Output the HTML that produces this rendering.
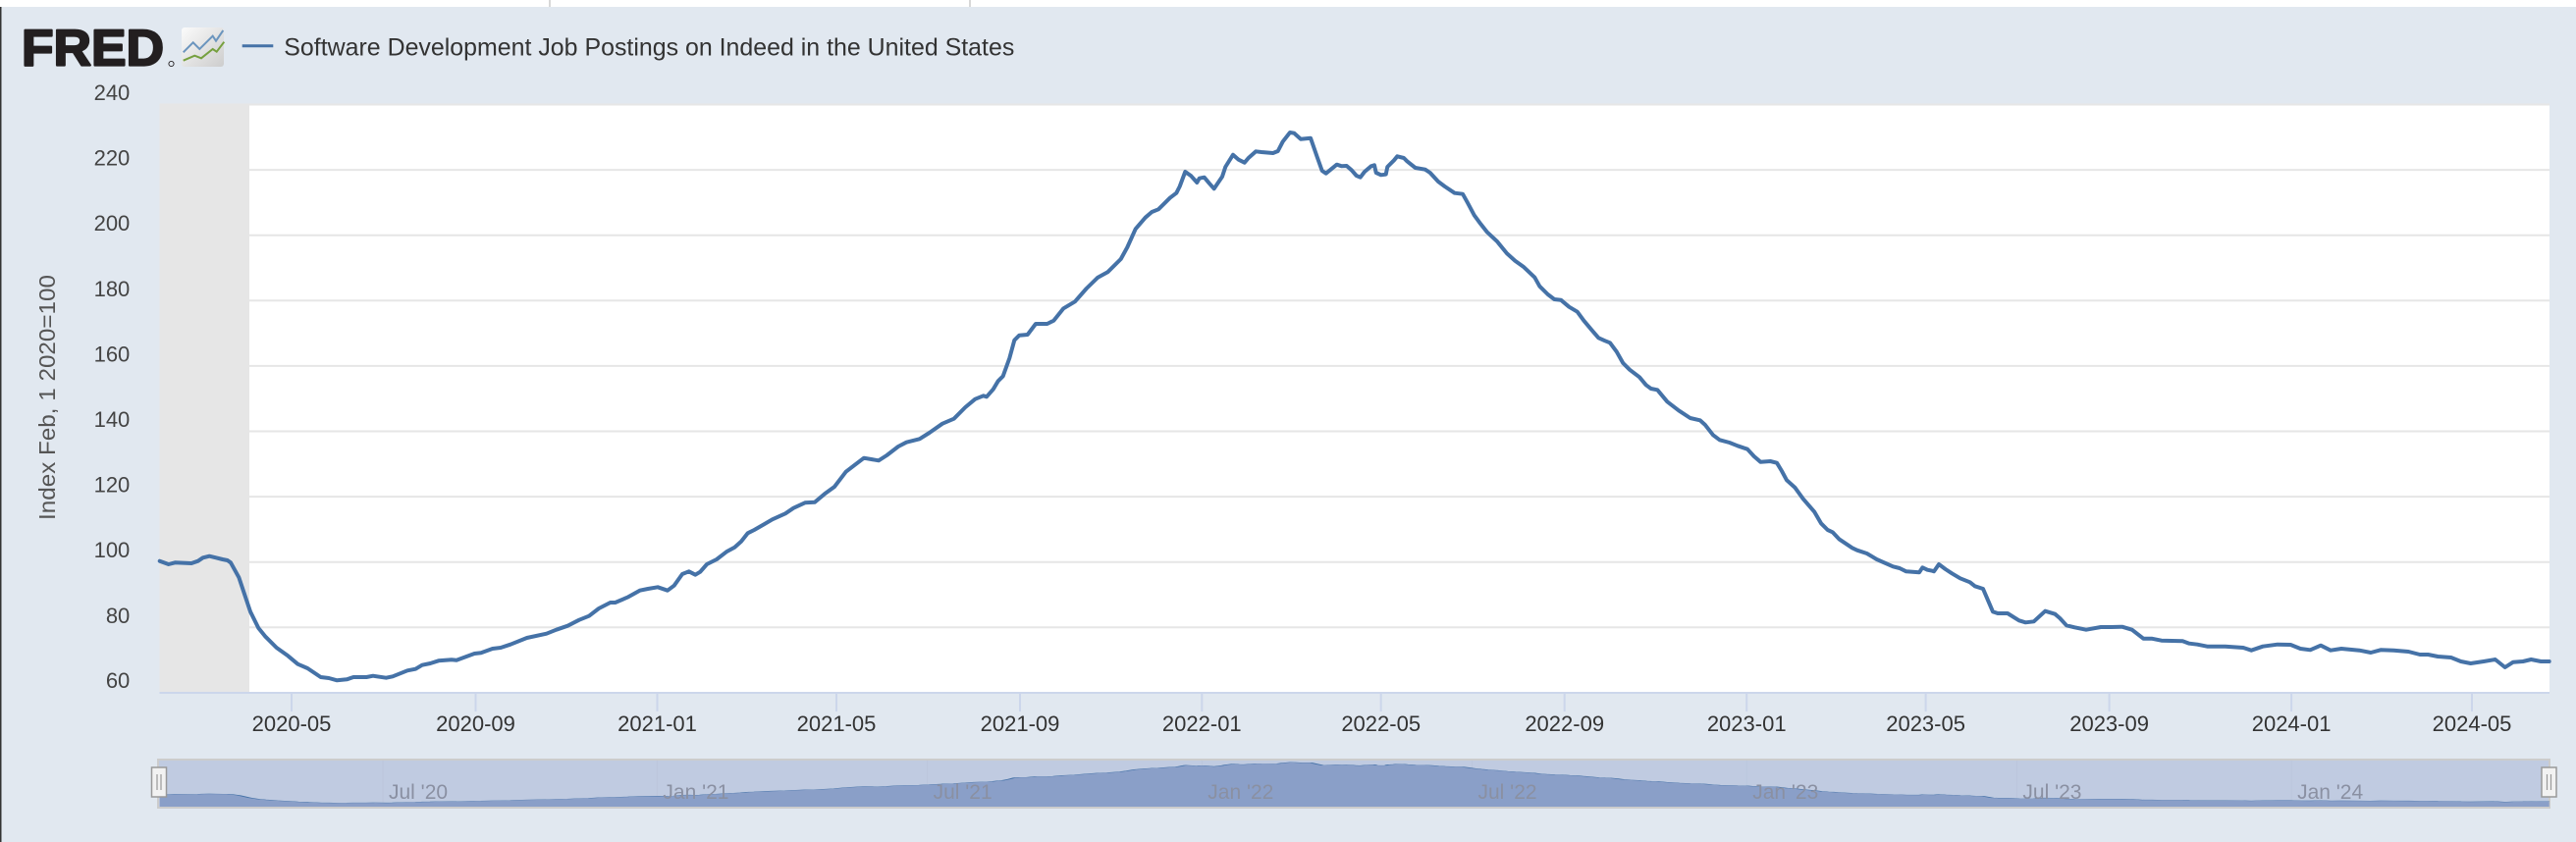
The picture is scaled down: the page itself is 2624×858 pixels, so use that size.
<!DOCTYPE html>
<html>
<head>
<meta charset="utf-8">
<style>
  html, body { margin: 0; padding: 0; background: #e1e8f0; }
  body { width: 2624px; height: 858px; overflow: hidden; }
  svg { display: block; font-family: "Liberation Sans", Arial, sans-serif; }
</style>
</head>
<body>
<svg width="2624" height="858" viewBox="0 0 2624 858" xmlns="http://www.w3.org/2000/svg">
  <defs>
    <linearGradient id="ig" x1="0" y1="0" x2="1" y2="1">
      <stop offset="0" stop-color="#fbfbfb"/>
      <stop offset="1" stop-color="#cdcdcd"/>
    </linearGradient>
    <clipPath id="navclip"><rect x="162" y="775" width="2435" height="47"/></clipPath>
  </defs>

  <!-- background -->
  <rect x="0" y="0" width="2624" height="858" fill="#e1e8f0"/>
  <rect x="0" y="0" width="2624" height="7" fill="#ffffff"/>
  <line x1="560" y1="0" x2="560" y2="7" stroke="#d8d8d8" stroke-width="2"/>
  <line x1="988" y1="0" x2="988" y2="7" stroke="#d8d8d8" stroke-width="2"/>
  <rect x="0" y="7" width="1.5" height="851" fill="#333333"/>

  <!-- FRED logo -->
  <text x="22" y="66.7" font-size="52" style="font-weight:700" fill="#231f20" stroke="#231f20" stroke-width="2.2" stroke-linejoin="round" textLength="145" lengthAdjust="spacingAndGlyphs">FRED</text>
  <circle cx="174.5" cy="65" r="2.6" fill="none" stroke="#231f20" stroke-width="0.9"/>
  <rect x="185" y="28" width="43" height="40" rx="3" fill="url(#ig)"/>
  <polyline points="186.7,53.3 196.7,43.3 203.3,50 216.7,36.7 220,41.7 227.3,31" fill="none" stroke="#6b95be" stroke-width="2"/>
  <polyline points="186.7,61.7 198.3,56.7 205,59.3 216.7,50 220.7,52.7 228.3,42.7" fill="none" stroke="#76a03f" stroke-width="2"/>

  <!-- legend -->
  <line x1="246.7" y1="46.7" x2="278.3" y2="46.7" stroke="#4572a7" stroke-width="3"/>
  <text x="289.3" y="56.7" font-size="25" fill="#333333" textLength="744" lengthAdjust="spacingAndGlyphs">Software Development Job Postings on Indeed in the United States</text>

  <!-- plot area -->
  <rect x="162.5" y="106.5" width="2434.5" height="599.5" fill="#ffffff"/>
  <g stroke="#e6e6e6" stroke-width="2">
    <line x1="162.5" y1="106.5" x2="2597" y2="106.5"/>
    <line x1="162.5" y1="173.1" x2="2597" y2="173.1"/>
    <line x1="162.5" y1="239.7" x2="2597" y2="239.7"/>
    <line x1="162.5" y1="306.3" x2="2597" y2="306.3"/>
    <line x1="162.5" y1="372.9" x2="2597" y2="372.9"/>
    <line x1="162.5" y1="439.5" x2="2597" y2="439.5"/>
    <line x1="162.5" y1="506.1" x2="2597" y2="506.1"/>
    <line x1="162.5" y1="572.7" x2="2597" y2="572.7"/>
    <line x1="162.5" y1="639.3" x2="2597" y2="639.3"/>
  </g>
  <rect x="162.5" y="106.5" width="91.5" height="599.5" fill="#e6e6e6"/>

  <!-- y labels -->
  <g font-size="22" fill="#444444" text-anchor="end">
    <text x="132.3" y="102">240</text>
    <text x="132.3" y="168.6">220</text>
    <text x="132.3" y="235.2">200</text>
    <text x="132.3" y="301.8">180</text>
    <text x="132.3" y="368.4">160</text>
    <text x="132.3" y="435">140</text>
    <text x="132.3" y="501.6">120</text>
    <text x="132.3" y="568.2">100</text>
    <text x="132.3" y="634.8">80</text>
    <text x="132.3" y="701.2">60</text>
  </g>
  <text transform="translate(56,405) rotate(-90)" x="0" y="0" font-size="23" fill="#555555" text-anchor="middle" textLength="250" lengthAdjust="spacingAndGlyphs">Index Feb, 1 2020=100</text>

  <!-- x axis -->
  <line x1="162.5" y1="706" x2="2597" y2="706" stroke="#ccd6eb" stroke-width="2"/>
  <g stroke="#ccd6eb" stroke-width="2">
    <line x1="297" y1="706" x2="297" y2="725"/>
    <line x1="484.5" y1="706" x2="484.5" y2="725"/>
    <line x1="669.5" y1="706" x2="669.5" y2="725"/>
    <line x1="852" y1="706" x2="852" y2="725"/>
    <line x1="1039" y1="706" x2="1039" y2="725"/>
    <line x1="1224.3" y1="706" x2="1224.3" y2="725"/>
    <line x1="1406.7" y1="706" x2="1406.7" y2="725"/>
    <line x1="1593.7" y1="706" x2="1593.7" y2="725"/>
    <line x1="1779.2" y1="706" x2="1779.2" y2="725"/>
    <line x1="1961.6" y1="706" x2="1961.6" y2="725"/>
    <line x1="2148.6" y1="706" x2="2148.6" y2="725"/>
    <line x1="2334.1" y1="706" x2="2334.1" y2="725"/>
    <line x1="2518" y1="706" x2="2518" y2="725"/>
  </g>
  <g font-size="22" fill="#333333" text-anchor="middle">
    <text x="297" y="745">2020-05</text>
    <text x="484.5" y="745">2020-09</text>
    <text x="669.5" y="745">2021-01</text>
    <text x="852" y="745">2021-05</text>
    <text x="1039" y="745">2021-09</text>
    <text x="1224.3" y="745">2022-01</text>
    <text x="1406.7" y="745">2022-05</text>
    <text x="1593.7" y="745">2022-09</text>
    <text x="1779.2" y="745">2023-01</text>
    <text x="1961.6" y="745">2023-05</text>
    <text x="2148.6" y="745">2023-09</text>
    <text x="2334.1" y="745">2024-01</text>
    <text x="2518" y="745">2024-05</text>
  </g>

  <!-- main series -->
  <polyline id="series" fill="none" stroke="#4572a7" stroke-width="4" stroke-linejoin="round" stroke-linecap="round" points="162.7,571.7 171.7,575 178.3,573.3 195,574 201.7,571.7 206.7,568.3 213.3,566.7 220,568.3 226.7,570 231.7,571 235,573.3 243.3,588.3 248.3,603.3 255,623.3 263.3,640 270,648.3 281.7,660 293.3,668.3 303.3,676.7 313.3,681 326.7,690 335,691 343.3,693.3 353.3,692.3 360,690 373.3,690 380,688.7 393.3,690.7 400,689.3 415,683.3 423.3,681.7 430,677.7 438.3,676 446.7,673.3 460,672.3 465,672.7 483.3,666 490,665.3 501.7,661 510,660 520,656.7 536.7,650 556.7,645.7 566.7,641.7 578.3,637.7 590,631.7 600,627.7 610,620 621.7,614 626.7,614 640,608.3 651.7,601.7 660,600 670,598.3 680,601.7 686.7,596.7 695,585 701.7,582.3 708.3,585.7 713.3,582.7 720,575 730,570 740,562.3 748.3,557.7 755,551.7 761.7,543.3 768.3,540 778.3,534.3 786.7,529.3 800,523.3 808.3,517.7 820,512.3 830,511.7 840,503.3 850,496 861.7,480.7 870,474.3 880,466.7 895,469.3 903.3,464 915,455 923.3,450.7 936.7,447.3 946.7,441 960,431.7 971.7,426.7 983.3,415 993.3,406.7 1001.7,403.3 1005,404.3 1011.7,396.7 1016.7,388.3 1021.7,383.3 1028.3,365 1033.3,346.7 1038.3,341.7 1046.7,341 1055,330 1066.7,330 1073.3,326.7 1083.3,314.3 1095,307.3 1106.7,294 1118.3,282.7 1128.3,277.3 1141.7,264 1148.3,252 1156.7,233.3 1166.7,221.7 1173.3,216 1180,213.3 1186.7,206.7 1191.7,201.7 1198.3,196.7 1201.7,190 1207.3,175 1213.3,179.3 1219.3,186 1221.7,181.7 1226.7,180.7 1231.7,186.7 1236.7,192.3 1245,180 1248.3,170 1256,157.7 1261.7,162.7 1267.7,165.7 1271.7,161 1279.3,154.3 1285,155 1296.7,156 1301.7,154 1306.7,144.3 1314,135 1318.3,135.7 1325,141.7 1335,140.7 1341.7,160 1346.7,174 1350.7,176.7 1361.7,167.7 1366.7,169.3 1371.7,169 1376.7,173.3 1381.7,179 1385.7,180.7 1390,175 1396.7,169.3 1400,168.3 1401.7,176 1406.7,178.3 1411.7,177.7 1413.3,170 1420,163.3 1423.3,159.3 1430,161 1433.3,164.3 1441.7,171 1451.7,172.7 1456.7,176 1465,185 1471.7,190 1481.7,196.7 1490,197.7 1495,206.7 1501.7,219.3 1508.3,228.3 1515,236.7 1525,246 1535,258.3 1543.3,265.7 1551.7,271.7 1563.3,282.7 1568.3,291.7 1576.7,300 1583.3,305 1590,305.7 1598.3,312.7 1606.7,317.7 1613.3,326.7 1621.7,336.7 1628.3,344.3 1635,347.3 1640,349.3 1646.7,358.3 1653.3,370 1660,376.7 1670,384.3 1676.7,392.3 1681.7,396 1688.3,397.3 1698.3,409.3 1710,418.3 1721.7,426 1731.7,428.3 1736.7,432.7 1745,443.3 1751.7,448.3 1761.7,451 1770,454.3 1780,457.7 1786.7,465 1793.3,470.7 1803.3,470 1810,471.7 1815,480 1820,489.3 1828.3,496.7 1836.7,508.3 1848.3,521.7 1855,533.3 1861.7,540 1866.7,542.3 1873.3,549.3 1886.7,558.3 1891.7,560.7 1901.7,564 1911.7,570 1928.3,577.3 1935,579 1941.7,582.3 1955,583.3 1958.3,578.3 1963.3,580.7 1968.3,581.7 1970,582.3 1975,575 1981.7,580 1988.3,584.3 1996.7,589.3 2006.7,593.3 2011.7,597.3 2020,600 2025,611.7 2030,623.3 2035,625 2045,625 2056.7,632.3 2063.3,634.3 2071.7,633.3 2083.3,622.7 2093.3,625.7 2098.3,630 2105,637.3 2113.3,639.3 2125,641.7 2140,639 2150,639 2161.7,638.7 2171.7,641.7 2183.3,650.7 2191.7,650.7 2201.7,652.7 2223.3,653.3 2230,655.7 2238.3,656.7 2248.3,658.7 2266.7,658.7 2285,660 2293.3,662.7 2305,658.7 2320,656.7 2333.3,657 2343.3,661 2353.3,662.3 2364,657.7 2374,662.7 2385,661 2403.3,662.7 2415,665 2425,662.3 2438.3,662.7 2453.3,664 2465,667 2473.3,667 2483.3,669 2496.7,670 2506.7,674 2516.7,676 2530,674 2541.7,672 2551.7,680 2560,674.7 2570,674 2578.3,672 2588.3,674 2596.7,674"/>

  <!-- navigator -->
  <rect x="161" y="774" width="2436" height="49" fill="#c0cbe1" stroke="#cccccc" stroke-width="2"/>
  <g clip-path="url(#navclip)">
    <g stroke="#b8c3da" stroke-width="1" opacity="0.6">
      <line x1="390" y1="775" x2="390" y2="822"/>
      <line x1="669.4" y1="775" x2="669.4" y2="822"/>
      <line x1="944.6" y1="775" x2="944.6" y2="822"/>
      <line x1="1224.3" y1="775" x2="1224.3" y2="822"/>
      <line x1="1499.5" y1="775" x2="1499.5" y2="822"/>
      <line x1="1779.2" y1="775" x2="1779.2" y2="822"/>
      <line x1="2054.4" y1="775" x2="2054.4" y2="822"/>
      <line x1="2334.1" y1="775" x2="2334.1" y2="822"/>
    </g>
    <g transform="matrix(1 0 0 0.07422 0 766.78)">
      <polygon fill="#8a9fc8" stroke="none" points="162.7,744 162.7,571.7 171.7,575 178.3,573.3 195,574 201.7,571.7 206.7,568.3 213.3,566.7 220,568.3 226.7,570 231.7,571 235,573.3 243.3,588.3 248.3,603.3 255,623.3 263.3,640 270,648.3 281.7,660 293.3,668.3 303.3,676.7 313.3,681 326.7,690 335,691 343.3,693.3 353.3,692.3 360,690 373.3,690 380,688.7 393.3,690.7 400,689.3 415,683.3 423.3,681.7 430,677.7 438.3,676 446.7,673.3 460,672.3 465,672.7 483.3,666 490,665.3 501.7,661 510,660 520,656.7 536.7,650 556.7,645.7 566.7,641.7 578.3,637.7 590,631.7 600,627.7 610,620 621.7,614 626.7,614 640,608.3 651.7,601.7 660,600 670,598.3 680,601.7 686.7,596.7 695,585 701.7,582.3 708.3,585.7 713.3,582.7 720,575 730,570 740,562.3 748.3,557.7 755,551.7 761.7,543.3 768.3,540 778.3,534.3 786.7,529.3 800,523.3 808.3,517.7 820,512.3 830,511.7 840,503.3 850,496 861.7,480.7 870,474.3 880,466.7 895,469.3 903.3,464 915,455 923.3,450.7 936.7,447.3 946.7,441 960,431.7 971.7,426.7 983.3,415 993.3,406.7 1001.7,403.3 1005,404.3 1011.7,396.7 1016.7,388.3 1021.7,383.3 1028.3,365 1033.3,346.7 1038.3,341.7 1046.7,341 1055,330 1066.7,330 1073.3,326.7 1083.3,314.3 1095,307.3 1106.7,294 1118.3,282.7 1128.3,277.3 1141.7,264 1148.3,252 1156.7,233.3 1166.7,221.7 1173.3,216 1180,213.3 1186.7,206.7 1191.7,201.7 1198.3,196.7 1201.7,190 1207.3,175 1213.3,179.3 1219.3,186 1221.7,181.7 1226.7,180.7 1231.7,186.7 1236.7,192.3 1245,180 1248.3,170 1256,157.7 1261.7,162.7 1267.7,165.7 1271.7,161 1279.3,154.3 1285,155 1296.7,156 1301.7,154 1306.7,144.3 1314,135 1318.3,135.7 1325,141.7 1335,140.7 1341.7,160 1346.7,174 1350.7,176.7 1361.7,167.7 1366.7,169.3 1371.7,169 1376.7,173.3 1381.7,179 1385.7,180.7 1390,175 1396.7,169.3 1400,168.3 1401.7,176 1406.7,178.3 1411.7,177.7 1413.3,170 1420,163.3 1423.3,159.3 1430,161 1433.3,164.3 1441.7,171 1451.7,172.7 1456.7,176 1465,185 1471.7,190 1481.7,196.7 1490,197.7 1495,206.7 1501.7,219.3 1508.3,228.3 1515,236.7 1525,246 1535,258.3 1543.3,265.7 1551.7,271.7 1563.3,282.7 1568.3,291.7 1576.7,300 1583.3,305 1590,305.7 1598.3,312.7 1606.7,317.7 1613.3,326.7 1621.7,336.7 1628.3,344.3 1635,347.3 1640,349.3 1646.7,358.3 1653.3,370 1660,376.7 1670,384.3 1676.7,392.3 1681.7,396 1688.3,397.3 1698.3,409.3 1710,418.3 1721.7,426 1731.7,428.3 1736.7,432.7 1745,443.3 1751.7,448.3 1761.7,451 1770,454.3 1780,457.7 1786.7,465 1793.3,470.7 1803.3,470 1810,471.7 1815,480 1820,489.3 1828.3,496.7 1836.7,508.3 1848.3,521.7 1855,533.3 1861.7,540 1866.7,542.3 1873.3,549.3 1886.7,558.3 1891.7,560.7 1901.7,564 1911.7,570 1928.3,577.3 1935,579 1941.7,582.3 1955,583.3 1958.3,578.3 1963.3,580.7 1968.3,581.7 1970,582.3 1975,575 1981.7,580 1988.3,584.3 1996.7,589.3 2006.7,593.3 2011.7,597.3 2020,600 2025,611.7 2030,623.3 2035,625 2045,625 2056.7,632.3 2063.3,634.3 2071.7,633.3 2083.3,622.7 2093.3,625.7 2098.3,630 2105,637.3 2113.3,639.3 2125,641.7 2140,639 2150,639 2161.7,638.7 2171.7,641.7 2183.3,650.7 2191.7,650.7 2201.7,652.7 2223.3,653.3 2230,655.7 2238.3,656.7 2248.3,658.7 2266.7,658.7 2285,660 2293.3,662.7 2305,658.7 2320,656.7 2333.3,657 2343.3,661 2353.3,662.3 2364,657.7 2374,662.7 2385,661 2403.3,662.7 2415,665 2425,662.3 2438.3,662.7 2453.3,664 2465,667 2473.3,667 2483.3,669 2496.7,670 2506.7,674 2516.7,676 2530,674 2541.7,672 2551.7,680 2560,674.7 2570,674 2578.3,672 2588.3,674 2596.7,674 2596.7,744"/>
      <use href="#series" stroke="#4a6aa5" stroke-width="2" vector-effect="non-scaling-stroke" style="stroke-width:2px"/>
    </g>
    <g font-size="21" fill="#8a90a2">
      <text x="396" y="814">Jul '20</text>
      <text x="675.4" y="814">Jan '21</text>
      <text x="950.6" y="814">Jul '21</text>
      <text x="1230.3" y="814">Jan '22</text>
      <text x="1505.5" y="814">Jul '22</text>
      <text x="1785.2" y="814">Jan '23</text>
      <text x="2060.4" y="814">Jul '23</text>
      <text x="2340.1" y="814">Jan '24</text>
    </g>
  </g>
  <!-- handles -->
  <rect x="154.5" y="782" width="15" height="30" fill="#f2f2f2" stroke="#999999" stroke-width="1.5"/>
  <line x1="160" y1="789" x2="160" y2="805" stroke="#999999" stroke-width="1.2"/>
  <line x1="164" y1="789" x2="164" y2="805" stroke="#999999" stroke-width="1.2"/>
  <rect x="2589" y="782" width="15" height="30" fill="#f2f2f2" stroke="#999999" stroke-width="1.5"/>
  <line x1="2594.5" y1="789" x2="2594.5" y2="805" stroke="#999999" stroke-width="1.2"/>
  <line x1="2598.5" y1="789" x2="2598.5" y2="805" stroke="#999999" stroke-width="1.2"/>
</svg>
</body>
</html>
